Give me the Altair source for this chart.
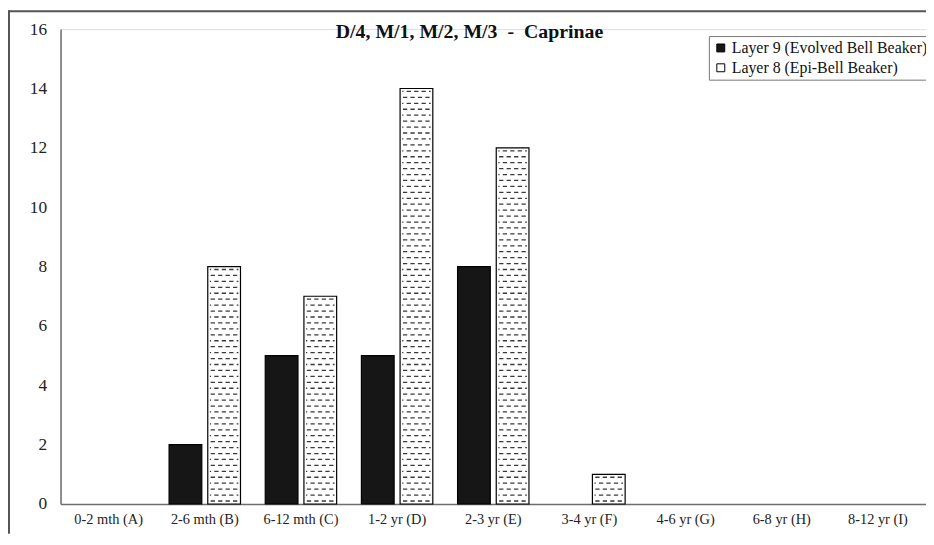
import altair as alt
import pandas as pd
import numpy as np

categories = ["0-2 mth (A)", "2-6 mth (B)", "6-12 mth (C)", "1-2 yr (D)", "2-3 yr (E)",
              "3-4 yr (F)", "4-6 yr (G)", "6-8 yr (H)", "8-12 yr (I)"]
layer9 = [0, 2, 5, 5, 8, 0, 0, 0, 0]
layer8 = [0, 8, 7, 14, 12, 1, 0, 0, 0]
series = ["Layer 9 (Evolved Bell Beaker)", "Layer 8 (Epi-Bell Beaker)"]
y_ticks = [0, 2, 4, 6, 8, 10, 12, 14, 16]
title_text = "D/4, M/1, M/2, M/3\u00a0\u00a0-\u00a0\u00a0Caprinae"

rows = []
for c, a, b in zip(categories, layer9, layer8):
    rows.append({"cat": c, "layer": series[0], "value": a})
    rows.append({"cat": c, "layer": series[1], "value": b})
df = pd.DataFrame(rows)
bars_df = df[df["value"] > 0]

# dash-pattern rows for the hatched series (decoration derived from the values)
prow = []
for c, b in zip(categories, layer8):
    if b > 0:
        ys = np.arange(0.1, b - 0.05, 0.2)
        for i, yv in enumerate(ys):
            prow.append({"cat": c, "layer": series[1], "py": float(yv), "par": i % 2})
pat_df = pd.DataFrame(prow)

font = "Liberation Serif"
xscale = alt.Scale(domain=categories, paddingInner=0, paddingOuter=0)
yscale = alt.Scale(domain=[0, 16], nice=False)
offscale = alt.Scale(domain=series, paddingInner=0.154, paddingOuter=0.32)

xaxis = alt.Axis(title=None, labelAngle=0, ticks=False, grid=False, domainColor="#6e6e6e",
                 domainWidth=1.5, labelFont=font, labelFontSize=14.5, labelColor="#222",
                 labelPadding=9)
yaxis = alt.Axis(title=None, values=y_ticks, ticks=False, grid=False, domainColor="#6e6e6e",
                 domainWidth=1.5, labelFont=font, labelFontSize=17.5, labelColor="#222",
                 labelPadding=14)

bars = alt.Chart(bars_df).mark_bar(stroke="#000", strokeWidth=1.2).encode(
    x=alt.X("cat:N", scale=xscale, axis=xaxis, sort=categories),
    xOffset=alt.XOffset("layer:N", scale=offscale, sort=series),
    y=alt.Y("value:Q", scale=yscale, axis=yaxis),
    color=alt.Color("layer:N", scale=alt.Scale(domain=series, range=["#161616", "#ffffff"]),
                    legend=alt.Legend(title=None, orient="none", legendX=654, legendY=7,
                                      symbolType="square", symbolSize=64,
                                      symbolStrokeColor="#000", symbolStrokeWidth=1,
                                      labelFont=font, labelFontSize=16, labelColor="#111",
                                      labelLimit=0,
                                      strokeColor="#777", fillColor="#fff", padding=4,
                                      rowPadding=4, symbolOffset=0, labelOffset=3)),
)

pathA = "M-0.85,0H-0.58M-0.38,0H-0.11M0.09,0H0.36M0.56,0H0.83"
pathB = "M-0.9,0H-0.82M-0.62,0H-0.35M-0.15,0H0.12M0.32,0H0.59M0.79,0H0.9"

pattern = alt.Chart(pat_df).mark_point(filled=False, strokeWidth=1.3, opacity=1).encode(
    x=alt.X("cat:N", scale=xscale, sort=categories),
    xOffset=alt.XOffset("layer:N", scale=offscale, sort=series),
    y=alt.Y("py:Q", scale=yscale),
    shape=alt.Shape("par:N", scale=alt.Scale(domain=[0, 1], range=[pathA, pathB]), legend=None),
    size=alt.value(1024),
    color=alt.value("#3a3a3a"),
)

frame_left = alt.Chart(pd.DataFrame({"k": [0]})).mark_rule(color="#555", strokeWidth=2).encode(
    x=alt.value(-52), y=alt.value(-19), y2=alt.value(509))
frame_top = alt.Chart(pd.DataFrame({"k": [0]})).mark_rule(color="#555", strokeWidth=2).encode(
    x=alt.value(-53), x2=alt.value(873), y=alt.value(-18))

chart = alt.layer(bars, pattern, frame_left, frame_top).properties(
    width=873, height=479,
    autosize=alt.AutoSizeParams(type="none"),
    padding={"left": 53, "top": 19, "right": 0, "bottom": 30},
    title=alt.TitleParams(title_text, font=font, fontSize=20, fontWeight="bold", color="#111",
                          anchor="middle", dx=-24, dy=23, offset=-10, frame="group"),
).configure_view(stroke=None).configure(background="white")

chart.save("out.html", embed_options={"renderer": "svg", "actions": False})
